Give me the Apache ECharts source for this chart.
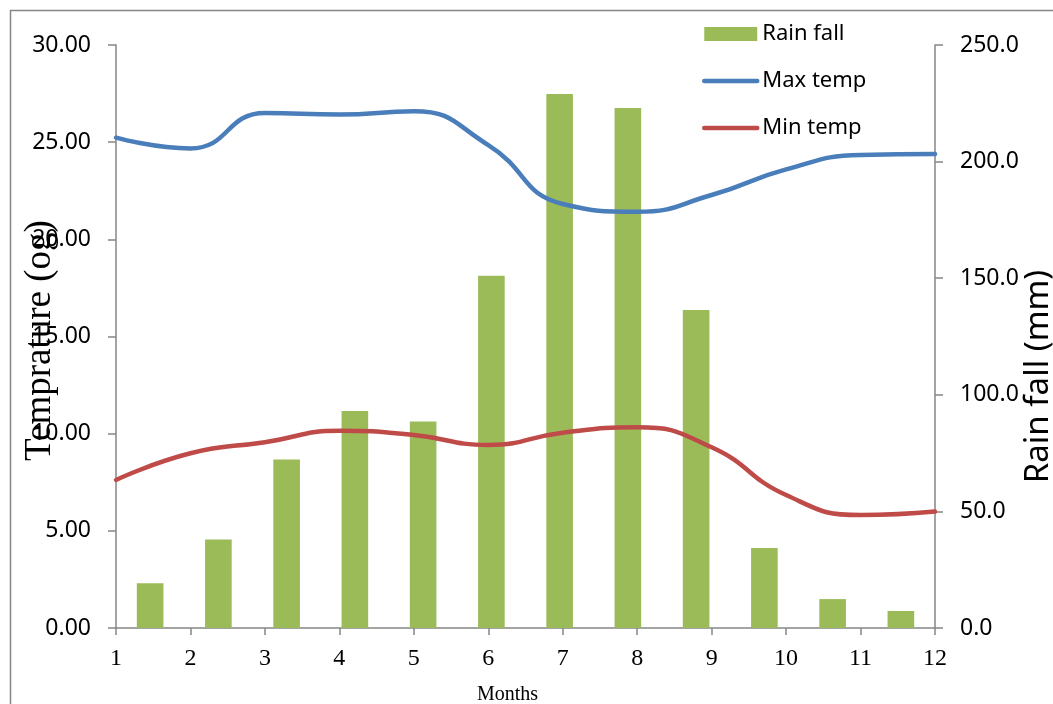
<!DOCTYPE html>
<html>
<head>
<meta charset="utf-8">
<script src="https://cdn.jsdelivr.net/npm/echarts@6/dist/echarts.min.js"></script>
<style>
html,body{margin:0;padding:0;background:#fff;}
#chart{width:1053px;height:704px;}
</style>
</head>
<body>
<div id="chart"></div>
<script>
var months = ['1','2','3','4','5','6','7','8','9','10','11','12'];
var rainfall = [19.2, 37.9, 72.3, 93.0, 88.5, 151.0, 229.0, 223.0, 136.4, 34.3, 12.4, 7.3];
var maxTemp = [25.23, 24.68, 26.50, 26.42, 26.59, 24.85, 21.82, 21.42, 22.28, 23.60, 24.34, 24.39];
var minTemp = [7.62, 8.99, 9.56, 10.15, 9.93, 9.42, 10.05, 10.33, 9.30, 6.84, 5.81, 5.99];

var chart = echarts.init(document.getElementById('chart'), null, {renderer:'canvas'});
var axisGray = '#868686';
var sans = 'Noto Sans';
var serif = 'Liberation Serif';
chart.setOption({
  animation: false,
  backgroundColor: '#ffffff',
  graphic: [{
    type: 'rect', silent: true, z: -10,
    shape: {x: 10.5, y: 10.5, width: 1100, height: 760},
    style: {fill: 'none', stroke: axisGray, lineWidth: 1.5}
  }],
  grid: {left: 116, right: 118, top: 45, bottom: 76, containLabel: false, outerBoundsMode: 'none'},
  legend: {
    orient: 'vertical', left: 697, top: 17, itemGap: 23,
    itemWidth: 53, itemHeight: 14,
    textStyle: {fontFamily: sans, fontSize: 22, color: '#000', lineHeight: 24},
    lineStyle: {width: 4.5, cap: 'round'},
    data: [
      {name: 'Rain fall', icon: 'rect'},
      {name: 'Max temp', itemStyle: {opacity: 0}},
      {name: 'Min temp', itemStyle: {opacity: 0}}
    ]
  },
  xAxis: [{
    type: 'category', data: months, boundaryGap: false,
    name: 'Months', nameLocation: 'middle', nameGap: 57, nameMoveOverlap: false,
    nameTextStyle: {fontFamily: serif, fontSize: 20, color: '#000', padding: [0, 36, 0, 0]},
    axisLine: {lineStyle: {color: axisGray, width: 1.5}},
    axisTick: {show: true, alignWithLabel: true, length: 7, inside: false, lineStyle: {color: axisGray, width: 1.5}},
    axisLabel: {fontFamily: serif, fontSize: 24, color: '#000', margin: 19},
    splitLine: {show: false}
  }, {
    type: 'category', data: months, boundaryGap: true, show: false,
    position: 'bottom'
  }],
  yAxis: [{
    type: 'value', min: 0, max: 30, interval: 5,
    name: 'Temprature (og)', nameLocation: 'middle', nameGap: 57, nameRotate: 90, nameMoveOverlap: false,
    nameTextStyle: {fontFamily: serif, fontSize: 37, color: '#000', padding: [0, 8, 0, 0]},
    axisLine: {show: true, lineStyle: {color: axisGray, width: 1.5}},
    axisTick: {show: true, length: 8, lineStyle: {color: axisGray, width: 1.5}},
    axisLabel: {fontFamily: sans, fontSize: 23, color: '#000', margin: 25,
      formatter: function(v){ return v.toFixed(2); }},
    splitLine: {show: false}
  }, {
    type: 'value', min: 0, max: 250, interval: 50, position: 'right',
    name: 'Rain fall (mm)', nameLocation: 'middle', nameGap: 87, nameRotate: 90, nameMoveOverlap: false,
    nameTextStyle: {fontFamily: sans, fontSize: 33, color: '#000', padding: [0, 80, 0, 0]},
    axisLine: {show: true, lineStyle: {color: axisGray, width: 1.5}},
    axisTick: {show: true, length: 8, lineStyle: {color: axisGray, width: 1.5}},
    axisLabel: {fontFamily: sans, fontSize: 23, color: '#000', margin: 25,
      formatter: function(v){ return v.toFixed(1); }},
    splitLine: {show: false}
  }],
  series: [{
    name: 'Rain fall', type: 'bar', xAxisIndex: 1, yAxisIndex: 1,
    data: rainfall, barWidth: '39%',
    itemStyle: {color: '#9BBB59'}, z: 2
  }, {
    name: 'Max temp', type: 'line', xAxisIndex: 0, yAxisIndex: 0,
    data: maxTemp, smooth: 0.5, symbol: 'none', showSymbol: false,
    lineStyle: {color: '#4A7EBB', width: 4.5, cap: 'round'},
    itemStyle: {color: '#4A7EBB'}, z: 5
  }, {
    name: 'Min temp', type: 'line', xAxisIndex: 0, yAxisIndex: 0,
    data: minTemp, smooth: 0.5, symbol: 'none', showSymbol: false,
    lineStyle: {color: '#BE4B48', width: 4.5, cap: 'round'},
    itemStyle: {color: '#BE4B48'}, z: 5
  }]
});
</script>
</body>
</html>
